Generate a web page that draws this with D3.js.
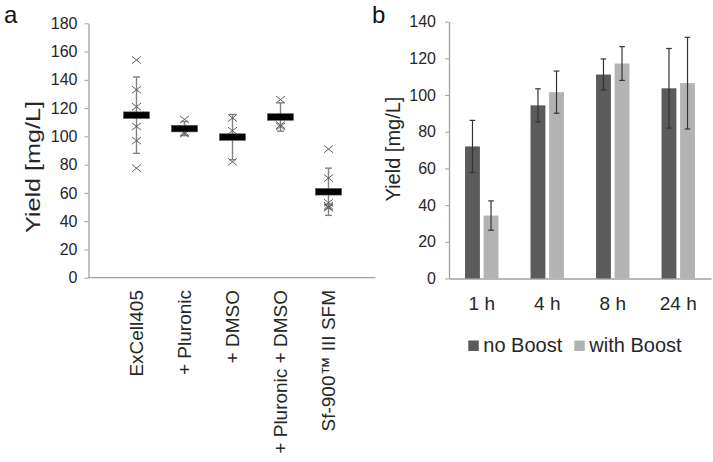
<!DOCTYPE html>
<html>
<head>
<meta charset="utf-8">
<script src="https://cdn.jsdelivr.net/npm/d3@7"></script>
<style>
  html, body { margin: 0; padding: 0; background: #fff; }
  svg { display: block; }
  svg text { font-family: "Liberation Sans", Arial, Helvetica, sans-serif !important; }
</style>
</head>
<body>
<svg id="chart" width="713" height="462"></svg>
<script>
// ---------- Panel a data ----------
const mediaCategories = ["ExCell405", "+ Pluronic", "+ DMSO", "+ Pluronic + DMSO", "Sf-900\u2122 III SFM"];
const mediaMeans = [115, 105.5, 99.5, 113.7, 60.8];
const mediaSD = [27, 5, 16, 10, 16.7];
const mediaReplicates = [
  [154, 133, 121, 107, 97, 77.5],
  [112, 103, 102],
  [113, 104, 82],
  [126, 108, 107],
  [91, 70.5, 53, 51, 50, 49.5]
];
const ticksA = [0, 20, 40, 60, 80, 100, 120, 140, 160, 180];

// ---------- Panel b data ----------
const timeCategories = ["1 h", "4 h", "8 h", "24 h"];
const seriesNames = ["no Boost", "with Boost"];
const noBoost = [72, 94.4, 111.2, 103.7];
const noBoostSD = [14.2, 9, 8.5, 21.7];
const withBoost = [34.3, 101.6, 117.2, 106.5];
const withBoostSD = [8, 11.5, 9.2, 25];
const ticksB = [0, 20, 40, 60, 80, 100, 120, 140];

const seriesColors = ["#5b5b5b", "#b3b3b3"];
const axisColor = "#a0a0a0";
const textColor = "#262626";

const svg = d3.select("#chart");

// ================= Panel a =================
const ga = svg.append("g");
const xA = d3.scaleLinear().domain([0, mediaCategories.length + 1]).range([88.5, 376.5]);
const yA = d3.scaleLinear().domain([0, 180]).range([277.7, 23.3]);

const axA = ga.append("g").attr("transform", `translate(${xA(0)},0)`)
  .call(d3.axisLeft(yA).tickValues(ticksA).tickSize(4).tickSizeOuter(0).tickPadding(7));
axA.select(".domain").attr("stroke", axisColor).attr("stroke-width", 1.3);
axA.selectAll(".tick line").attr("stroke", axisColor);
axA.selectAll(".tick text").attr("font-size", 16).attr("fill", textColor);

ga.append("line").attr("x1", xA(0)).attr("x2", xA(mediaCategories.length + 1) - 1)
  .attr("y1", yA(0)).attr("y2", yA(0)).attr("stroke", axisColor).attr("stroke-width", 1.3);

// y title
ga.append("text")
  .attr("transform", `translate(40,167) rotate(-90)`)
  .attr("text-anchor", "middle")
  .attr("font-size", 20)
  .attr("fill", textColor)
  .attr("textLength", 132)
  .attr("lengthAdjust", "spacingAndGlyphs")
  .text("Yield [mg/L]");

// category labels
ga.selectAll(".catlab").data(mediaCategories).join("text")
  .attr("class", "catlab")
  .attr("transform", (d, i) => `translate(${xA(i + 1) + 6.5},290) rotate(-90)`)
  .attr("text-anchor", "end")
  .attr("font-size", 19)
  .attr("fill", textColor)
  .text(d => d);

// error bars
const capA = 3.5;
mediaCategories.forEach((c, i) => {
  const cx = xA(i + 1);
  const lo = mediaMeans[i] - mediaSD[i], hi = mediaMeans[i] + mediaSD[i];
  const g = ga.append("g").attr("stroke", "#808080").attr("stroke-width", 1.4);
  g.append("line").attr("x1", cx).attr("x2", cx).attr("y1", yA(lo)).attr("y2", yA(hi));
  g.append("line").attr("x1", cx - capA).attr("x2", cx + capA).attr("y1", yA(lo)).attr("y2", yA(lo));
  g.append("line").attr("x1", cx - capA).attr("x2", cx + capA).attr("y1", yA(hi)).attr("y2", yA(hi));
});

// replicate crosses
const cs = 4.5;
mediaReplicates.forEach((vals, i) => {
  const cx = xA(i + 1);
  vals.forEach(v => {
    const cy = yA(v);
    ga.append("path")
      .attr("d", `M${cx - cs},${cy - cs * 0.8}L${cx + cs},${cy + cs * 0.8}M${cx - cs},${cy + cs * 0.8}L${cx + cs},${cy - cs * 0.8}`)
      .attr("stroke", "#606060").attr("stroke-width", 1).attr("fill", "none");
  });
});

// mean bars
ga.selectAll(".mean").data(mediaMeans).join("rect")
  .attr("class", "mean")
  .attr("x", (d, i) => xA(i + 1) - 13)
  .attr("y", d => yA(d) - 3.3)
  .attr("width", 26)
  .attr("height", 6.6)
  .attr("fill", "#000")
  .attr("stroke", "#555")
  .attr("stroke-width", 0.6);

// panel letter
svg.append("text").attr("x", 4).attr("y", 22.5).attr("font-size", 24).attr("fill", "#111")
  .text("a");

// ================= Panel b =================
const gb = svg.append("g");
const x0 = d3.scaleBand().domain(timeCategories).range([449, 711]).paddingInner(0.49).paddingOuter(0.245);
const x1 = d3.scaleBand().domain(seriesNames).range([0, x0.bandwidth()]).paddingInner(0.2).paddingOuter(0);
const yB = d3.scaleLinear().domain([0, 140]).range([278.5, 21.7]);

const axB = gb.append("g").attr("transform", `translate(449,0)`)
  .call(d3.axisLeft(yB).tickValues(ticksB).tickSize(4).tickSizeOuter(0).tickPadding(9));
axB.select(".domain").attr("stroke", axisColor).attr("stroke-width", 1.3);
axB.selectAll(".tick line").attr("stroke", axisColor);
axB.selectAll(".tick text").attr("font-size", 16).attr("fill", textColor);

const axBx = gb.append("g").attr("transform", `translate(0,${yB(0)})`)
  .call(d3.axisBottom(x0).tickSize(0).tickPadding(18).tickSizeOuter(0));
axBx.select(".domain").attr("stroke", axisColor).attr("stroke-width", 1.3);
axBx.selectAll(".tick text").attr("font-size", 19).attr("fill", textColor);

gb.append("text")
  .attr("transform", `translate(400,149) rotate(-90)`)
  .attr("text-anchor", "middle")
  .attr("font-size", 20)
  .attr("fill", textColor)
  .text("Yield [mg/L]");

const seriesVals = [noBoost, withBoost];
const seriesSDs = [noBoostSD, withBoostSD];
seriesNames.forEach((s, si) => {
  gb.selectAll(".bar" + si).data(timeCategories).join("rect")
    .attr("class", "bar" + si)
    .attr("x", d => x0(d) + x1(s))
    .attr("y", (d, i) => yB(seriesVals[si][i]))
    .attr("width", x1.bandwidth())
    .attr("height", (d, i) => yB(0) - yB(seriesVals[si][i]))
    .attr("fill", seriesColors[si]);
});
const capB = 2.8;
seriesNames.forEach((s, si) => {
  timeCategories.forEach((c, i) => {
    const cx = x0(c) + x1(s) + x1.bandwidth() / 2;
    const lo = seriesVals[si][i] - seriesSDs[si][i], hi = seriesVals[si][i] + seriesSDs[si][i];
    const g = gb.append("g").attr("stroke", "#333").attr("stroke-width", 1.2);
    g.append("line").attr("x1", cx).attr("x2", cx).attr("y1", yB(lo)).attr("y2", yB(hi));
    g.append("line").attr("x1", cx - capB).attr("x2", cx + capB).attr("y1", yB(lo)).attr("y2", yB(lo));
    g.append("line").attr("x1", cx - capB).attr("x2", cx + capB).attr("y1", yB(hi)).attr("y2", yB(hi));
  });
});

// legend
const legendX = [468.3, 574.3];
seriesNames.forEach((s, si) => {
  gb.append("rect").attr("x", legendX[si]).attr("y", 340.5).attr("width", 10.5).attr("height", 10.5)
    .attr("fill", seriesColors[si]);
  gb.append("text").attr("x", legendX[si] + 15).attr("y", 351.7).attr("font-size", 20)
    .attr("fill", textColor).text(s);
});

svg.append("text").attr("x", 372).attr("y", 22.5).attr("font-size", 24).attr("fill", "#111")
  .text("b");
</script>
</body>
</html>
